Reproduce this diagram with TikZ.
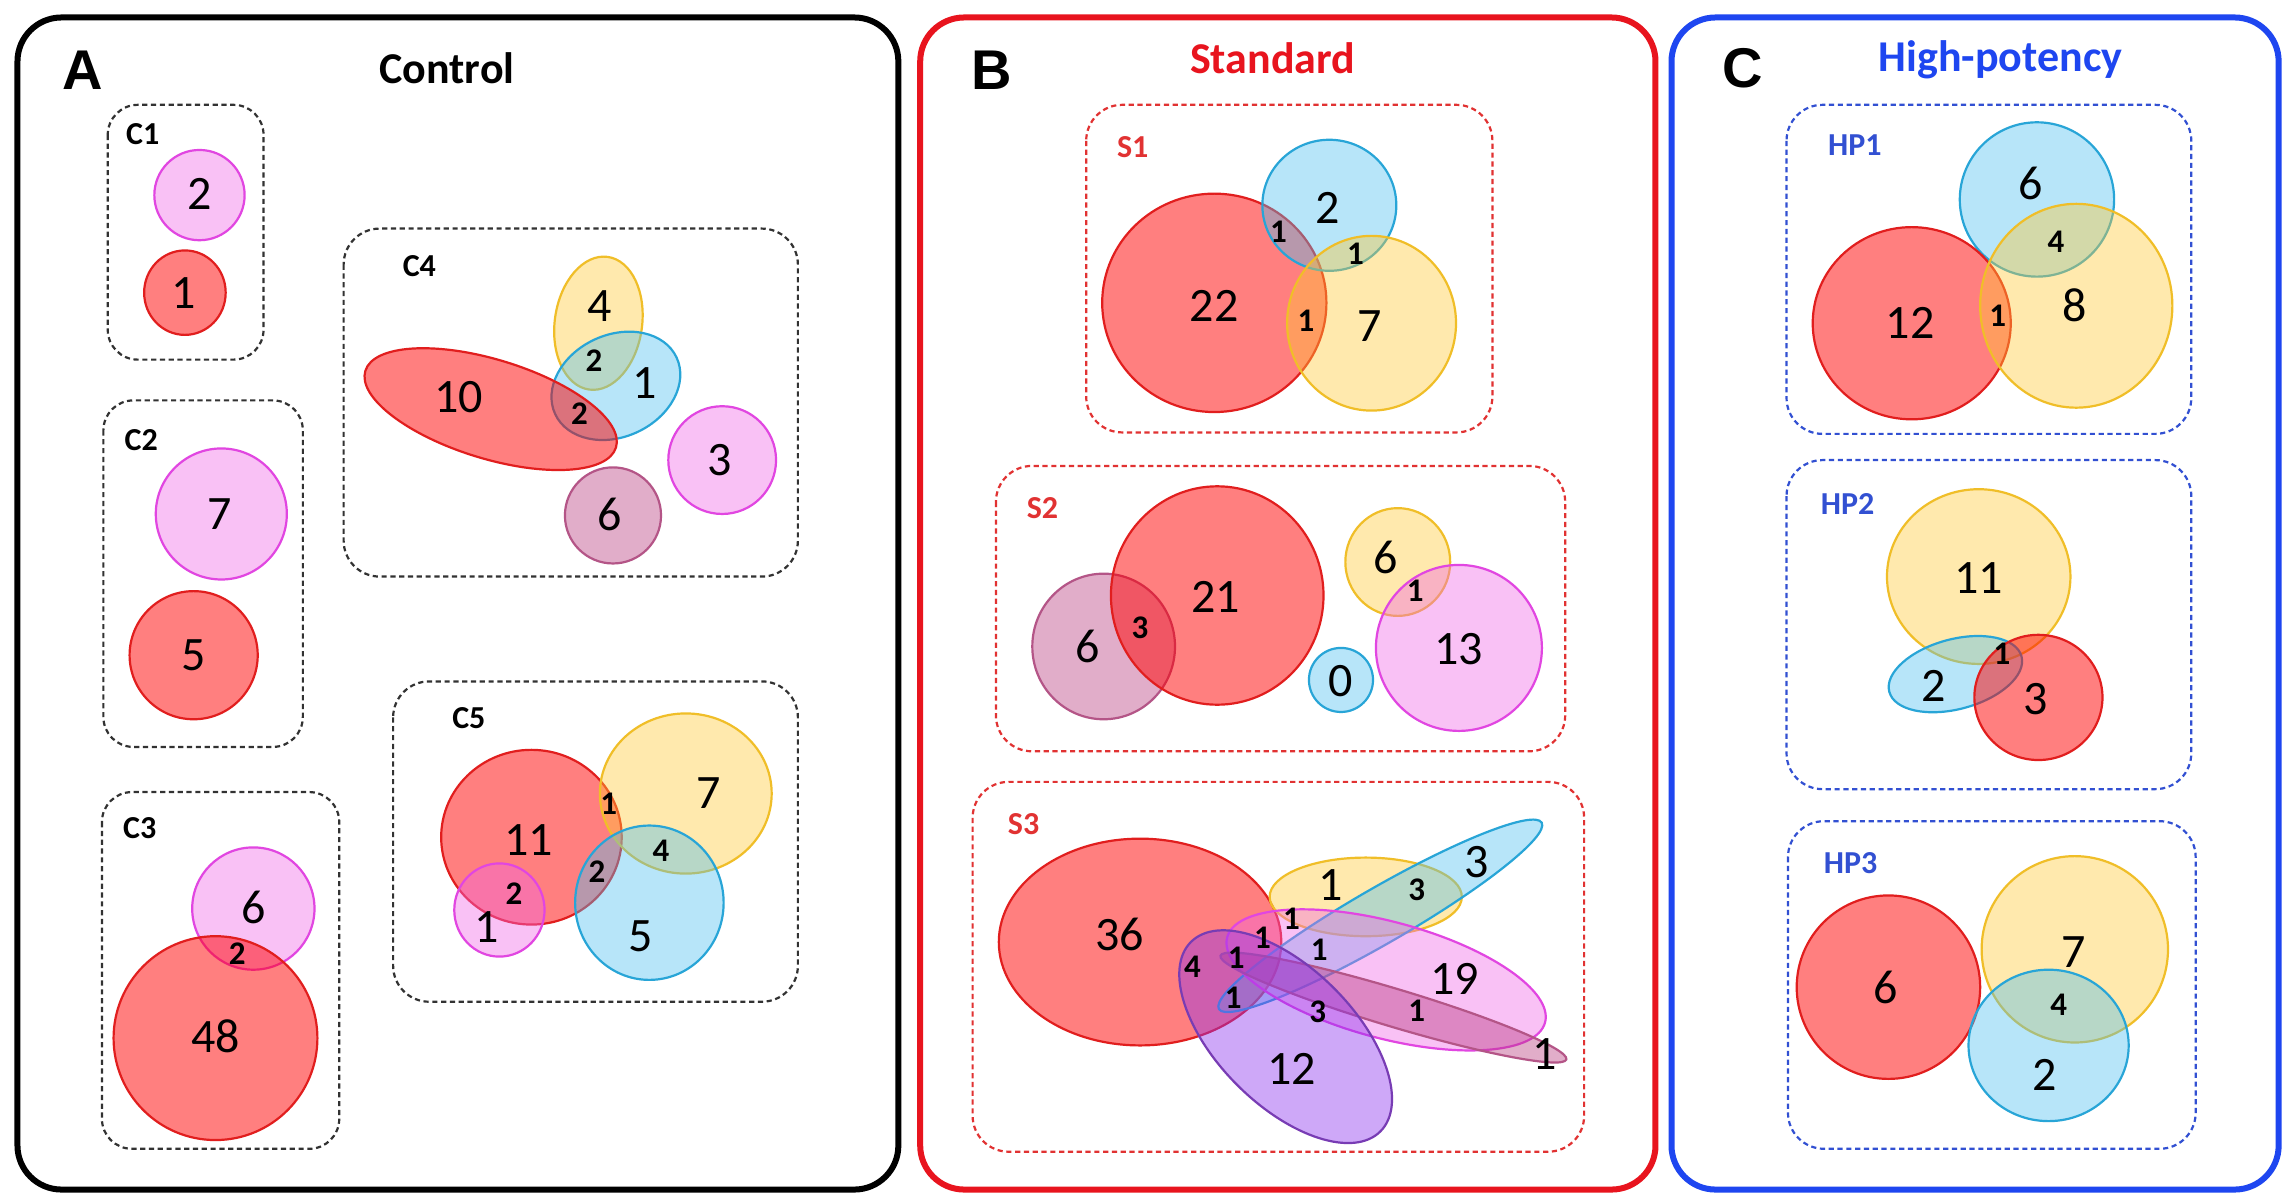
\documentclass[tikz,border=0pt]{standalone}
\usepackage{fontspec}
\setmainfont{Carlito}
\newfontfamily\arialf{Liberation Sans}
\definecolor{rS}{RGB}{225,30,30}
\definecolor{rF}{RGB}{255,0,0}
\definecolor{yS}{RGB}{240,190,40}
\definecolor{yF}{RGB}{255,200,50}
\definecolor{bS}{RGB}{40,165,215}
\definecolor{bF}{RGB}{75,190,240}
\definecolor{pS}{RGB}{225,70,225}
\definecolor{pF}{RGB}{240,100,230}
\definecolor{mS}{RGB}{180,85,135}
\definecolor{mF}{RGB}{180,50,120}
\definecolor{vS}{RGB}{120,60,180}
\definecolor{vF}{RGB}{140,50,240}
\definecolor{panR}{RGB}{232,20,30}
\definecolor{panB}{RGB}{30,70,240}
\definecolor{dashK}{RGB}{50,50,50}
\definecolor{dashR}{RGB}{225,50,50}
\definecolor{dashB}{RGB}{50,80,210}
\tikzset{
  red set/.style={draw=rS, fill=rF, fill opacity=0.5, line width=1.1pt},
  yel set/.style={draw=yS, fill=yF, fill opacity=0.4, line width=1.1pt},
  blu set/.style={draw=bS, fill=bF, fill opacity=0.4, line width=1.1pt},
  pnk set/.style={draw=pS, fill=pF, fill opacity=0.4, line width=1.1pt},
  mau set/.style={draw=mS, fill=mF, fill opacity=0.4, line width=1.1pt},
  vio set/.style={draw=vS, fill=vF, fill opacity=0.42, line width=1.1pt},
  panel/.style={line width=3pt, rounded corners=22pt},
  group box/.style={dashed, dash pattern=on 2.6pt off 1.8pt, line width=1.1pt, rounded corners=18pt},
  big/.style={inner sep=0pt, font=\fontsize{24}{24}\selectfont},
  sml/.style={inner sep=0pt, font=\bfseries\fontsize{16.5}{16.5}\selectfont},
  sub/.style={inner sep=0pt, font=\bfseries\fontsize{16}{16}\selectfont},
  ttl/.style={inner sep=0pt, font=\bfseries\fontsize{22}{22}\selectfont},
  letter/.style={inner sep=0pt, font=\arialf\bfseries\fontsize{28}{28}\selectfont}
}
\begin{document}
\begin{tikzpicture}[x=0.728pt, y=0.728pt]
\useasboundingbox (0,0) rectangle (1568,-823);
\fill[white] (0,0) rectangle (1568,-823);
% panels
\draw[panel, black] (12,-12) rectangle (617,-817);
\draw[panel, panR] (632,-12) rectangle (1137,-817);
\draw[panel, panB] (1148,-12) rectangle (1565,-817);
\node[letter] (LA) at (57,-48) {A};
\node[ttl] (TA) at (307,-47) {Control};
\node[letter] (LB) at (681,-48) {B};
\node[ttl, text=panR] (TB) at (874,-40) {Standard};
\node[letter] (LC) at (1197,-47) {C};
\node[ttl, text=panB] (TC) at (1374,-41) {High-potency};
% group boxes
\draw[group box, dashK, rounded corners=15pt] (74,-72) rectangle (181,-247);
\draw[group box, dashK, rounded corners=15pt] (71,-275) rectangle (208,-513);
\draw[group box, dashK, rounded corners=15pt] (70,-544) rectangle (233,-789);
\draw[group box, dashK] (236,-157) rectangle (548,-396);
\draw[group box, dashK] (270,-468) rectangle (548,-688);
\draw[group box, dashR] (746,-72) rectangle (1025,-297);
\draw[group box, dashR] (684,-320) rectangle (1075,-516);
\draw[group box, dashR] (668,-537) rectangle (1088,-791);
\draw[group box, dashB] (1227,-72) rectangle (1505,-298);
\draw[group box, dashB] (1227,-316) rectangle (1505,-542);
\draw[group box, dashB] (1228,-564) rectangle (1508,-789);
\node[sub] (sC1) at (98,-92) {C1};
\node[sub] (sC2) at (97,-302) {C2};
\node[sub] (sC3) at (96,-569) {C3};
\node[sub] (sC4) at (288,-183) {C4};
\node[sub] (sC5) at (322,-493) {C5};
\node[sub, text=dashR] (sS1) at (778,-101) {S1};
\node[sub, text=dashR] (sS2) at (716,-349) {S2};
\node[sub, text=dashR] (sS3) at (703,-566) {S3};
\node[sub, text=dashB] (sH1) at (1274,-100) {HP1};
\node[sub, text=dashB] (sH2) at (1269,-346) {HP2};
\node[sub, text=dashB] (sH3) at (1271,-593) {HP3};
% ---------- C1
\draw[pnk set] (137,-134) ellipse [x radius=31, y radius=31];
\draw[red set] (127,-201) ellipse [x radius=28, y radius=29];
% ---------- C2
\draw[pnk set] (152,-353) ellipse [x radius=45, y radius=45];
\draw[red set] (133,-450) ellipse [x radius=44, y radius=44];
% ---------- C3
\draw[pnk set] (174,-624) ellipse [x radius=42, y radius=42];
\draw[red set] (148,-713) ellipse [x radius=70, y radius=70];
% ---------- C4
\draw[yel set, rotate around={-8:(411,-222)}] (411,-222) ellipse [x radius=30, y radius=46];
\draw[blu set, rotate around={25:(423,-265)}] (423,-265) ellipse [x radius=46, y radius=35];
\draw[red set, rotate around={-17:(337,-281)}] (337,-281) ellipse [x radius=90, y radius=34];
\draw[pnk set] (496,-316) ellipse [x radius=37, y radius=37];
\draw[mau set] (421,-354) ellipse [x radius=33, y radius=33];
% ---------- C5
\draw[red set] (365,-575) ellipse [x radius=62, y radius=60];
\draw[yel set] (471,-545) ellipse [x radius=59, y radius=55];
\draw[blu set] (446,-620) ellipse [x radius=51, y radius=53];
\draw[pnk set] (343,-625) ellipse [x radius=31, y radius=32];
% ---------- S1
\draw[red set] (834,-208) ellipse [x radius=77, y radius=75];
\draw[blu set] (913,-141) ellipse [x radius=46, y radius=45];
\draw[yel set] (942,-222) ellipse [x radius=58, y radius=60];
% ---------- S2
\draw[mau set] (758,-444) ellipse [x radius=49, y radius=50];
\draw[red set] (836,-409) ellipse [x radius=73, y radius=75];
\draw[yel set] (960,-386) ellipse [x radius=36, y radius=37];
\draw[pnk set] (1002,-445) ellipse [x radius=57, y radius=57];
\draw[blu set] (921,-467) ellipse [x radius=22, y radius=22];
% ---------- S3
\draw[red set] (783,-647) ellipse [x radius=97, y radius=71];
\draw[yel set] (938,-616) ellipse [x radius=66, y radius=27];
\draw[blu set, rotate around={30:(948,-629)}] (948,-629) ellipse [x radius=128, y radius=19];
\draw[pnk set, rotate around={-15:(952,-673)}] (952,-673) ellipse [x radius=113, y radius=40];
\draw[mau set, rotate around={-16.7:(957,-692)}] (957,-692) ellipse [x radius=124, y radius=13];
\draw[vio set, rotate around={-45:(883,-712)}] (883,-712) ellipse [x radius=92, y radius=47];
% ---------- HP1
\draw[blu set] (1399,-137) ellipse [x radius=53, y radius=53];
\draw[red set] (1313,-222) ellipse [x radius=68, y radius=66];
\draw[yel set] (1426,-210) ellipse [x radius=66, y radius=70];
% ---------- HP2
\draw[yel set] (1359,-396) ellipse [x radius=63, y radius=60];
\draw[blu set, rotate around={15:(1343,-463)}] (1343,-463) ellipse [x radius=47, y radius=24];
\draw[red set] (1400,-479) ellipse [x radius=44, y radius=43];
% ---------- HP3
\draw[red set] (1297,-678) ellipse [x radius=63, y radius=63];
\draw[yel set] (1425,-652) ellipse [x radius=64, y radius=64];
\draw[blu set] (1407,-718) ellipse [x radius=55, y radius=52];
% ---------- labels A
\node[big] (a1) at (137,-133) {2};
\node[big] (a2) at (126,-201) {1};
\node[big] (a3) at (151,-353) {7};
\node[big] (a4) at (133,-450) {5};
\node[big] (a5) at (174,-623) {6};
\node[big] (a6) at (148,-712) {48};
\node[sml] (a7) at (163,-655) {2};
\node[big] (a8) at (315,-273) {10};
\node[big] (a9) at (412,-210) {4};
\node[sml] (a10) at (408,-248) {2};
\node[big] (a11) at (443,-263) {1};
\node[sml] (a12) at (398,-284) {2};
\node[big] (a13) at (494,-316) {3};
\node[big] (a14) at (419,-353) {6};
\node[big] (a15) at (363,-577) {11};
\node[big] (a16) at (487,-545) {7};
\node[sml] (a17) at (418,-552) {1};
\node[sml] (a18) at (454,-584) {4};
\node[sml] (a19) at (410,-599) {2};
\node[sml] (a20) at (353,-614) {2};
\node[big] (a21) at (334,-637) {1};
\node[big] (a22) at (440,-643) {5};
% ---------- labels B
\node[big] (b1) at (834,-210) {22};
\node[big] (b2) at (912,-143) {2};
\node[big] (b3) at (941,-224) {7};
\node[sml] (b4) at (878,-159) {1};
\node[sml] (b5) at (931,-174) {1};
\node[sml] (b6) at (897,-220) {1};
\node[big] (b7) at (747,-444) {6};
\node[sml] (b8) at (783,-431) {3};
\node[big] (b9) at (835,-410) {21};
\node[big] (b10) at (952,-383) {6};
\node[sml] (b11) at (972,-406) {1};
\node[big] (b12) at (1002,-446) {13};
\node[big] (b13) at (921,-468) {0};
\node[big] (b14) at (769,-642) {36};
\node[big] (b15) at (914,-608) {1};
\node[sml] (b16) at (973,-611) {3};
\node[big] (b17) at (1014,-592) {3};
\node[sml] (b18) at (887,-631) {1};
\node[sml] (b19) at (867,-644) {1};
\node[sml] (b20) at (906,-652) {1};
\node[sml] (b21) at (819,-664) {4};
\node[sml] (b22) at (849,-658) {1};
\node[sml] (b23) at (847,-685) {1};
\node[big] (b24) at (999,-672) {19};
\node[sml] (b25) at (905,-695) {3};
\node[sml] (b26) at (973,-694) {1};
\node[big] (b27) at (887,-734) {12};
\node[big] (b28) at (1061,-724) {1};
% ---------- labels C
\node[big] (c1) at (1395,-126) {6};
\node[sml] (c2) at (1412,-166) {4};
\node[big] (c3) at (1312,-222) {12};
\node[sml] (c4) at (1372,-217) {1};
\node[big] (c5) at (1425,-210) {8};
\node[big] (c6) at (1359,-397) {11};
\node[big] (c7) at (1328,-471) {2};
\node[big] (c8) at (1398,-480) {3};
\node[sml] (c9) at (1375,-449) {1};
\node[big] (c10) at (1295,-678) {6};
\node[big] (c11) at (1424,-654) {7};
\node[sml] (c12) at (1414,-690) {4};
\node[big] (c13) at (1404,-738) {2};
\end{tikzpicture}
\end{document}
